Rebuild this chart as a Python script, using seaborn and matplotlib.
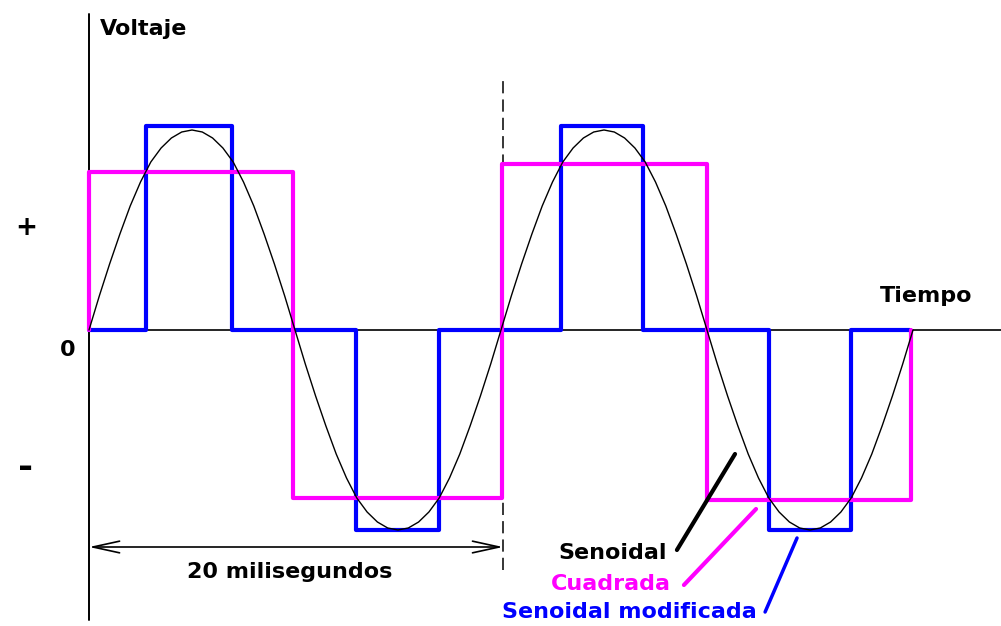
import numpy as np
import pandas as pd
import matplotlib
matplotlib.use("Agg")
import matplotlib.pyplot as plt
import seaborn as sns

# -----------------------------------
# DATA (time in ms, voltage relative to sine peak)
# -----------------------------------

sine_time = [i / 2 for i in range(0, 81)]
sine_volt = [0, 0.17, 0.33, 0.48, 0.62, 0.74, 0.84, 0.91, 0.96, 0.99,
             1.0, 0.99, 0.96, 0.91, 0.84, 0.74, 0.62, 0.48, 0.33, 0.17,
             0, -0.17, -0.33, -0.48, -0.62, -0.74, -0.84, -0.91, -0.96, -0.99,
             -1.0, -0.99, -0.96, -0.91, -0.84, -0.74, -0.62, -0.48, -0.33, -0.17,
             0, 0.17, 0.33, 0.48, 0.62, 0.74, 0.84, 0.91, 0.96, 0.99,
             1.0, 0.99, 0.96, 0.91, 0.84, 0.74, 0.62, 0.48, 0.33, 0.17,
             0, -0.17, -0.33, -0.48, -0.62, -0.74, -0.84, -0.91, -0.96, -0.99,
             -1.0, -0.99, -0.96, -0.91, -0.84, -0.74, -0.62, -0.48, -0.33, -0.17,
             0]

square_time = [0, 0, 9.9, 20.05, 30.0, 39.9]
square_volt = [0, 0.79, -0.84, 0.83, -0.85, 0]

modified_time = [0, 2.76, 6.93, 12.98, 17.0, 22.9, 26.9, 33.0, 37.0, 39.86]
modified_volt = [0, 1.02, 0, -1.0, 0, 1.02, 0, -1.0, 0, 0]

period_ms = 20

sine_df = pd.DataFrame({"t": sine_time, "v": sine_volt})
square_df = pd.DataFrame({"t": square_time, "v": square_volt})
modified_df = pd.DataFrame({"t": modified_time, "v": modified_volt})

# -----------------------------------
# PLOT
# -----------------------------------

sns.set_theme(style="white")
plt.rcParams["font.family"] = ["DejaVu Sans"]

fig = plt.figure(figsize=(10.01, 6.26), dpi=100)
ax = fig.add_axes([0, 0, 1, 1])
ax.set_xlim(-89 / 20.6, (1001 - 89) / 20.6)
ax.set_ylim(-296 / 200, 330 / 200)
ax.axis("off")

blue = "#0000FF"
magenta = "#FF00FF"

# axes lines
ax.plot([0, 0], [-1.45, 1.58], color="black", lw=1.4, zorder=1)
ax.plot([0, 50], [0, 0], color="black", lw=1.2, zorder=1)
ax.plot([period_ms + 0.1, period_ms + 0.1], [-1.2, 1.26], color="black",
        lw=1.1, ls=(0, (8, 4)), zorder=1)

sns.lineplot(data=modified_df, x="t", y="v", ax=ax, color=blue, lw=3,
             drawstyle="steps-post", estimator=None, sort=False, zorder=2)
sns.lineplot(data=square_df, x="t", y="v", ax=ax, color=magenta, lw=3,
             drawstyle="steps-post", estimator=None, sort=False, zorder=3)
sns.lineplot(data=sine_df, x="t", y="v", ax=ax, color="black", lw=1.0,
             estimator=None, sort=False, zorder=4)
ax.set_xlabel("")
ax.set_ylabel("")

# labels
font = dict(fontsize=16, fontweight="bold")
ax.text(0.53, 1.475, "Voltaje", ha="left", va="baseline", color="black", **font)
ax.text(38.4, 0.14, "Tiempo", ha="left", va="baseline", color="black", **font)
ax.text(-1.02, -0.13, "0", ha="center", va="baseline", color="black", **font)
ax.text(-3.06, 0.51, "+", ha="center", va="center", color="black",
        fontsize=19, fontweight="bold")
ax.text(-3.06, -0.69, "-", ha="center", va="center", color="black",
        fontsize=26, fontweight="bold")

# 20 ms span
ax.annotate("", xy=(0, -1.085), xytext=(period_ms + 0.1, -1.085),
            arrowprops=dict(arrowstyle="<->,head_length=1.6,head_width=0.35",
                            color="black", lw=1.2, shrinkA=0, shrinkB=0))
ax.text(9.76, -1.24, "20 milisegundos", ha="center", va="baseline",
        color="black", **font)

# legend with leader lines
ax.text(28.06, -1.145, "Senoidal", ha="right", va="baseline", color="black", **font)
ax.text(28.25, -1.30, "Cuadrada", ha="right", va="baseline", color=magenta, **font)
ax.text(32.43, -1.44, "Senoidal modificada", ha="right", va="baseline", color=blue, **font)
ax.plot([31.36, 28.54], [-0.62, -1.10], color="black", lw=3, zorder=5)
ax.plot([32.38, 28.88], [-0.895, -1.275], color=magenta, lw=3, zorder=5)
ax.plot([34.37, 32.82], [-1.04, -1.41], color=blue, lw=2.5, zorder=5)

fig.savefig("out.png", dpi=100)
